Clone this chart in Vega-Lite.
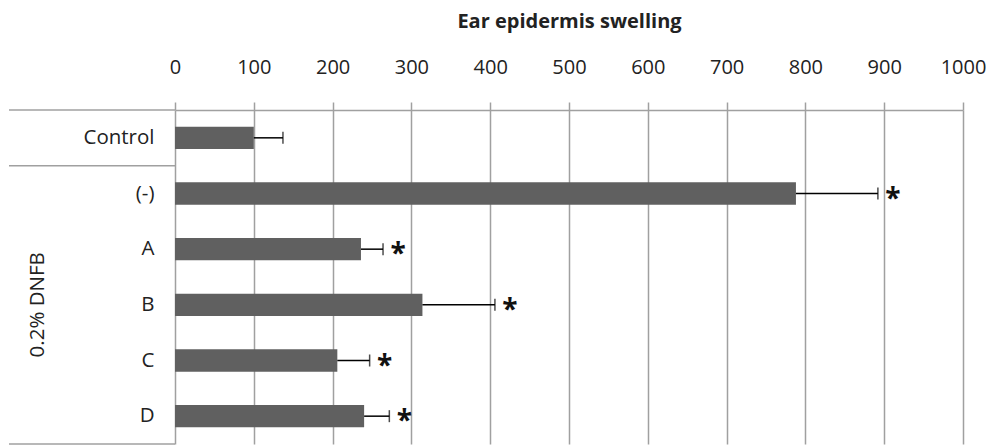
{
  "$schema": "https://vega.github.io/schema/vega-lite/v6.json",
  "padding": {"left": 8, "top": 11, "right": 0, "bottom": 0},
  "spacing": 0,
  "bounds": "flush",
  "config": {"view": {"stroke": null}, "font": "Open Sans"},
  "hconcat": [
    {
      "width": 166,
      "height": 334,
      "layer": [
        {
          "data": {"values": [{"row": "Control"}, {"row": "(-)"}]},
          "mark": {"type": "rule", "color": "#a0a0a0", "strokeWidth": 1.5},
          "encoding": {
            "y": {"field": "row", "type": "nominal", "bandPosition": 0,
                  "scale": {"domain": ["Control", "(-)", "A", "B", "C", "D"], "paddingInner": 0, "paddingOuter": 0}, "axis": null},
            "x": {"datum": 0, "type": "quantitative", "scale": {"domain": [0, 1], "nice": false}, "axis": null},
            "x2": {"datum": 1}
          }
        },
        {
          "data": {"values": [{"row": "D"}]},
          "mark": {"type": "rule", "color": "#a0a0a0", "strokeWidth": 1.5},
          "encoding": {
            "y": {"field": "row", "type": "nominal", "bandPosition": 1,
                  "scale": {"domain": ["Control", "(-)", "A", "B", "C", "D"], "paddingInner": 0, "paddingOuter": 0}, "axis": null},
            "x": {"datum": 0, "type": "quantitative", "scale": {"domain": [0, 1], "nice": false}, "axis": null},
            "x2": {"datum": 1}
          }
        },
        {
          "data": {"values": [{"row": "B", "label": "0.2% DNFB", "pos": 0.175}]},
          "mark": {"type": "text", "angle": 270, "fontSize": 20.5, "color": "#222", "align": "center", "baseline": "middle"},
          "encoding": {
            "y": {"field": "row", "type": "nominal",
                  "scale": {"domain": ["Control", "(-)", "A", "B", "C", "D"], "paddingInner": 0, "paddingOuter": 0}, "axis": null},
            "x": {"field": "pos", "type": "quantitative", "scale": {"domain": [0, 1], "nice": false}, "axis": null},
            "text": {"field": "label"}
          }
        }
      ]
    },
    {
      "width": 788,
      "height": 334,
      "data": {"values": [
        {"row": "Control", "value": 100, "err": 137, "sig": false},
        {"row": "(-)", "value": 788, "err": 892, "sig": true},
        {"row": "A", "value": 236, "err": 264, "sig": true},
        {"row": "B", "value": 314, "err": 406, "sig": true},
        {"row": "C", "value": 206, "err": 247, "sig": true},
        {"row": "D", "value": 240, "err": 272, "sig": true}
      ]},
      "encoding": {
        "y": {"field": "row", "type": "nominal",
              "scale": {"domain": ["Control", "(-)", "A", "B", "C", "D"], "paddingInner": 0, "paddingOuter": 0},
              "axis": {"title": null, "ticks": false, "domain": false, "labelPadding": 21, "labelFontSize": 20.5, "labelColor": "#222", "labelFont": "Open Sans"}}
      },
      "layer": [
        {
          "mark": {"type": "bar", "color": "#606060", "height": {"band": 0.4}},
          "encoding": {
            "x": {"field": "value", "type": "quantitative",
                  "scale": {"domain": [0, 1000], "nice": false},
                  "axis": {"orient": "top", "values": [0, 100, 200, 300, 400, 500, 600, 700, 800, 900, 1000], "format": "d",
                           "grid": true, "gridColor": "#a0a0a0", "gridWidth": 1.5,
                           "tickColor": "#a0a0a0", "tickWidth": 1.5, "tickSize": 8,
                           "domainColor": "#a0a0a0", "domainWidth": 1.5,
                           "labelFontSize": 20, "labelPadding": 25, "labelColor": "#222", "labelFlush": false,
                           "title": "Ear epidermis swelling", "titleFontSize": 20, "titleFontWeight": "bold",
                           "titleColor": "#222", "titlePadding": 26}}
          }
        },
        {
          "mark": {"type": "rule", "color": "black", "strokeWidth": 1.5},
          "encoding": {"x": {"field": "value", "type": "quantitative"}, "x2": {"field": "err"}}
        },
        {
          "mark": {"type": "tick", "color": "black", "thickness": 1.5, "size": 12},
          "encoding": {"x": {"field": "err", "type": "quantitative"}}
        },
        {
          "transform": [{"filter": "datum.sig"}],
          "mark": {"type": "text", "text": "*", "dx": 15, "dy": 6, "fontSize": 28, "fontWeight": "bold", "color": "#111", "align": "center", "baseline": "middle"},
          "encoding": {"x": {"field": "err", "type": "quantitative"}}
        }
      ]
    }
  ]
}
